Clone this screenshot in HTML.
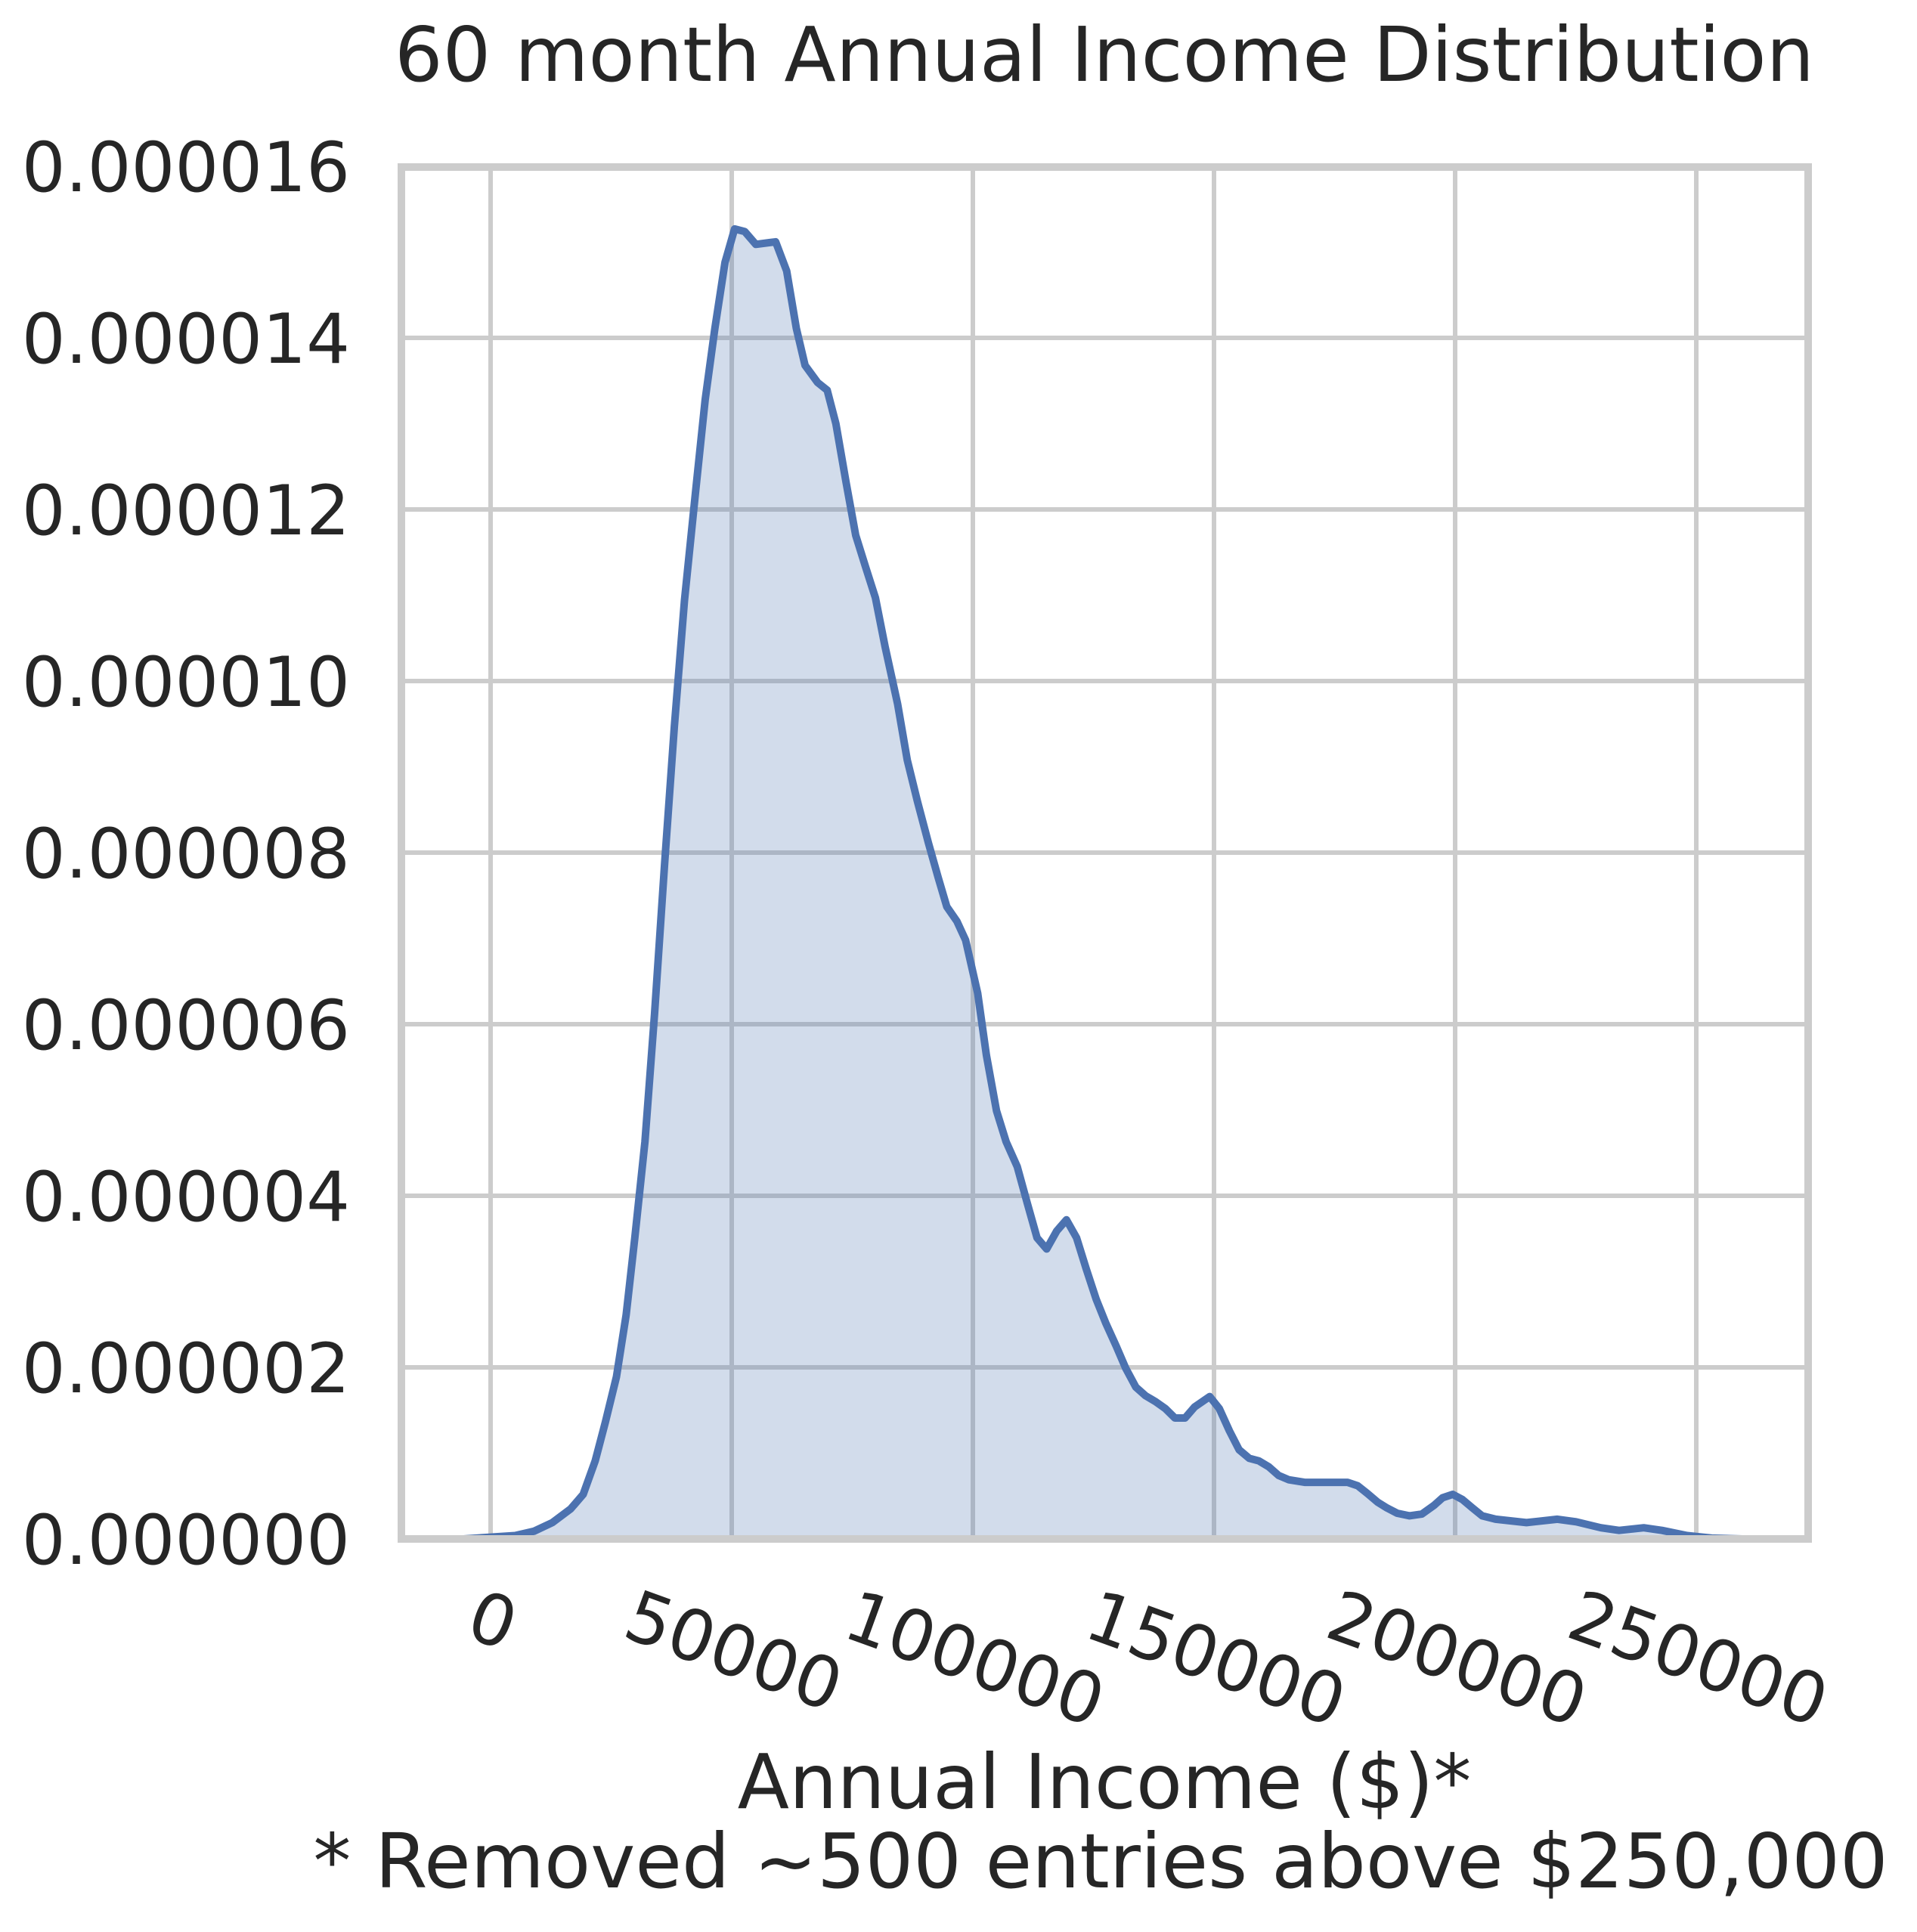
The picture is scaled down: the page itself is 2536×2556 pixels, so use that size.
<!DOCTYPE html>
<html><head><meta charset="utf-8"><style>
html,body{margin:0;padding:0;background:#fff}
svg{display:block}
text{font-family:"DejaVu Sans","Liberation Sans",sans-serif;fill:#262626}
</style></head><body>
<svg id="chart" width="2536" height="2556" viewBox="0 0 2536 2556">
<rect x="0" y="0" width="2536" height="2556" fill="#fff"/>
<text x="1461" y="107" font-size="100" text-anchor="middle">60 month Annual Income Distribution</text>
<g id="grid"></g>
<g id="marks"></g>
<rect x="531" y="221" width="1861" height="1815" fill="none" stroke="#cccccc" stroke-width="10"/>
<g id="yticks"></g>
<g id="xticks"></g>
<text x="1461" y="2392" font-size="100" text-anchor="middle">Annual Income ($)*</text>
<text x="1456" y="2497" font-size="100" text-anchor="middle">* Removed ~500 entries above $250,000</text>
</svg>
<script>
const incomeK = [-5.6,5.1,9.0,12.8,16.6,19.2,21.7,23.8,26.1,28.1,29.9,32.0,34.0,36.1,38.1,40.2,42.5,44.5,46.5,48.6,50.6,52.7,55.0,59.1,61.4,63.4,65.2,67.8,69.8,71.6,73.7,75.7,77.7,79.8,81.8,84.4,86.4,88.5,90.8,92.8,94.6,96.7,98.5,101.0,102.8,104.9,106.9,109.2,111.3,113.3,115.3,117.4,119.4,121.5,123.5,125.6,127.6,129.7,131.7,133.8,135.8,137.9,139.9,141.9,144.0,146.0,149.1,151.1,153.2,155.2,157.3,159.3,161.4,163.4,165.5,168.8,173.9,177.7,179.8,181.8,183.9,185.9,188.0,190.5,193.1,195.6,197.4,199.5,201.5,203.6,205.6,208.4,214.8,221.2,225.1,230.2,234.0,239.1,242.9,248.1,253.2,259.6];
const densityE6 = [0,0.04,0.09,0.19,0.35,0.52,0.91,1.36,1.89,2.61,3.51,4.63,6.12,7.88,9.47,10.94,12.21,13.28,14.11,14.88,15.27,15.24,15.09,15.12,14.78,14.11,13.68,13.48,13.39,13.0,12.32,11.70,11.34,10.97,10.40,9.73,9.08,8.60,8.11,7.71,7.37,7.20,6.98,6.36,5.64,4.99,4.63,4.34,3.91,3.51,3.38,3.59,3.72,3.51,3.15,2.79,2.51,2.25,1.99,1.77,1.67,1.60,1.52,1.41,1.41,1.54,1.66,1.52,1.26,1.04,0.94,0.91,0.84,0.74,0.69,0.66,0.66,0.66,0.62,0.53,0.43,0.36,0.30,0.27,0.29,0.39,0.48,0.52,0.46,0.36,0.27,0.23,0.19,0.23,0.20,0.13,0.10,0.13,0.10,0.04,0.01,0];
const xTickValues = [0,50000,100000,150000,200000,250000];
const yTickValues = [0,2,4,6,8,10,12,14,16];
const yTickLabels = ["0.000000","0.000002","0.000004","0.000006","0.000008","0.000010","0.000012","0.000014","0.000016"];

const NS="http://www.w3.org/2000/svg";
function sx(dollars){return 649 + dollars*0.00638;}
function sy(dE6){return 2036 - dE6*113.5;}
function mk(tag,attrs,parent){const e=document.createElementNS(NS,tag);for(const k in attrs)e.setAttribute(k,attrs[k]);parent.appendChild(e);return e;}

const grid=document.getElementById('grid');
xTickValues.forEach(v=>{
  const l=mk('line',{x1:sx(v),x2:sx(v),y1:221,y2:2036,stroke:'#cccccc','stroke-width':6},grid);
  
  
});
yTickValues.forEach(v=>{
  const l=mk('line',{x1:531,x2:2392,y1:sy(v),y2:sy(v),stroke:'#cccccc','stroke-width':6},grid);
  
  
});

const marks=document.getElementById('marks');
let d='';
incomeK.forEach((k,i)=>{d+=(i?'L':'M')+sx(k*1000).toFixed(1)+','+sy(densityE6[i]).toFixed(1);});
const fillD=d+'L'+sx(incomeK[incomeK.length-1]*1000).toFixed(1)+','+sy(0)+'L'+sx(incomeK[0]*1000).toFixed(1)+','+sy(0)+'Z';
const area=mk('path',{d:fillD,fill:'#4c72b0','fill-opacity':0.25,stroke:'none'},marks);


const line=mk('path',{d:d,fill:'none',stroke:'#4c72b0','stroke-width':10,'stroke-linejoin':'round'},marks);



const yt=document.getElementById('yticks');
yTickValues.forEach((v,i)=>{
  const t=mk('text',{x:463,y:sy(v)+33,'font-size':91,'text-anchor':'end'},yt);
  t.textContent=yTickLabels[i];
  
  
});
const xt=document.getElementById('xticks');
xTickValues.forEach(v=>{
  const s=String(v);
  const w=s.length*0.636*93;
  const cy=2098+(w*Math.sin(20*Math.PI/180)+70)/2;
  const x=sx(v)+3;
  const t=mk('text',{x:x,y:cy+33,'font-size':93,'text-anchor':'middle',transform:'rotate(20 '+x+' '+cy+')'},xt);
  t.textContent=s;
  
  
});
</script>
</body></html>
